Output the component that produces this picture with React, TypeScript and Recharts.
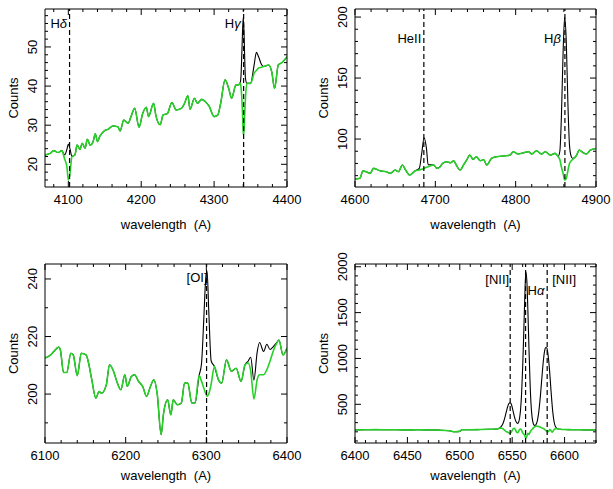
import React from 'react';
import { LineChart, Line, XAxis, YAxis, ReferenceLine } from 'recharts';

const FONT = '"Liberation Sans", Arial, Helvetica, sans-serif';
const GREEN = '#27d127';

// top left: H-delta / H-gamma
const wave1 = [4068, 4075, 4080, 4086, 4091, 4095, 4098, 4100, 4102, 4105, 4109, 4112, 4116, 4119, 4123, 4126, 4130, 4134, 4137, 4140, 4143, 4149, 4155, 4161, 4168, 4171, 4176, 4182, 4186, 4191, 4197, 4202, 4207, 4210, 4217, 4220, 4226, 4230, 4236, 4242, 4248, 4255, 4259, 4264, 4267, 4273, 4277, 4283, 4288, 4293, 4300, 4305, 4309, 4315, 4320, 4324, 4330, 4333, 4336, 4337, 4338, 4339, 4340, 4341, 4342, 4343, 4345, 4350, 4355, 4358, 4361, 4365, 4368, 4375, 4379, 4383, 4388, 4393, 4400];
const observed1 = [22.4, 22.8, 23.5, 23.0, 23.5, 22.4, 23.8, 25.2, 24.2, 22.0, 22.4, 24.9, 23.8, 25.4, 24.1, 26.4, 24.9, 25.8, 27.8, 25.8, 27.1, 28.5, 29.0, 29.8, 29.6, 28.5, 31.3, 30.5, 32.2, 34.3, 29.5, 33.0, 34.6, 32.2, 35.6, 32.6, 30.1, 32.6, 33.0, 35.8, 33.9, 34.3, 35.4, 37.5, 34.1, 36.9, 35.6, 36.6, 36.0, 34.9, 32.2, 32.6, 35.6, 41.6, 39.4, 36.9, 40.3, 40.3, 41.0, 43.0, 48.0, 54.0, 57.6, 54.0, 47.0, 42.0, 40.7, 40.7, 45.5, 48.6, 47.5, 45.5, 45.0, 45.4, 43.7, 39.4, 45.4, 46.0, 47.5];
const stellar1 = [22.4, 22.8, 23.5, 23.0, 23.5, 21.3, 19.4, 16.0, 17.3, 22.0, 22.4, 24.9, 23.8, 25.4, 24.1, 26.4, 24.9, 25.8, 27.8, 25.8, 27.1, 28.5, 29.0, 29.8, 29.6, 28.5, 31.3, 30.5, 32.2, 34.3, 29.5, 33.0, 34.6, 32.2, 35.6, 32.6, 30.1, 32.6, 33.0, 35.8, 33.9, 34.3, 35.4, 37.5, 34.1, 36.9, 35.6, 36.6, 36.0, 34.9, 32.2, 32.6, 35.6, 41.6, 39.4, 36.9, 40.3, 40.3, 40.7, 39.5, 37.0, 33.0, 27.5, 28.5, 33.0, 37.0, 40.7, 40.7, 43.3, 44.0, 44.6, 44.8, 45.0, 45.4, 43.7, 39.4, 45.4, 46.0, 47.5];
const lines1 = [4101.7, 4340.5];
const names1 = ['Hδ', 'Hγ'];

// top right: HeII / H-beta
const wave2 = [4600, 4606, 4610, 4614, 4619, 4623, 4631, 4639, 4644, 4650, 4654, 4659, 4663, 4668, 4675, 4680, 4683, 4686, 4689, 4691, 4698, 4702, 4706, 4709, 4714, 4719, 4723, 4726, 4731, 4735, 4739, 4743, 4747, 4751, 4756, 4760, 4764, 4770, 4776, 4785, 4793, 4797, 4803, 4810, 4816, 4820, 4826, 4832, 4837, 4843, 4849, 4853, 4855, 4857, 4859, 4861, 4863, 4865, 4867, 4869, 4871, 4876, 4879, 4884, 4888, 4893, 4900];
const observed2 = [67.2, 67.8, 74.0, 73.2, 71.9, 76.0, 74.0, 73.2, 71.9, 74.6, 73.2, 78.7, 74.6, 70.5, 74.0, 76.0, 88.0, 101.0, 92.0, 79.0, 78.7, 76.0, 77.3, 80.0, 81.4, 80.6, 82.2, 78.7, 74.6, 78.7, 82.8, 86.9, 83.3, 85.5, 82.2, 83.3, 78.7, 84.2, 85.5, 86.1, 86.9, 89.6, 87.7, 88.8, 89.6, 87.7, 90.4, 87.7, 89.6, 86.9, 88.3, 86.0, 90.0, 120.0, 170.0, 200.0, 180.0, 130.0, 95.0, 86.0, 84.0, 86.9, 91.0, 88.8, 87.7, 91.0, 92.3];
const stellar2 = [67.2, 67.8, 74.0, 73.2, 71.9, 76.0, 74.0, 73.2, 71.9, 74.6, 73.2, 78.7, 74.6, 70.5, 74.0, 74.6, 75.2, 76.0, 76.8, 77.3, 78.7, 76.0, 77.3, 80.0, 81.4, 80.6, 82.2, 78.7, 74.6, 78.7, 82.8, 86.9, 83.3, 85.5, 82.2, 83.3, 78.7, 84.2, 85.5, 86.1, 86.9, 89.6, 87.7, 88.8, 89.6, 87.7, 90.4, 87.7, 89.6, 86.9, 88.3, 85.5, 83.0, 77.0, 72.0, 66.4, 67.8, 74.0, 80.0, 82.0, 83.3, 86.9, 91.0, 88.8, 87.7, 91.0, 92.3];
const lines2 = [4685.7, 4861.3];
const names2 = ['HeII', 'Hβ'];

// bottom left: [OI]
const wave3 = [6100, 6107, 6111, 6117, 6119, 6123, 6127, 6132, 6135, 6140, 6145, 6151, 6154, 6158, 6163, 6167, 6170, 6176, 6180, 6185, 6189, 6194, 6199, 6202, 6207, 6211, 6216, 6221, 6226, 6230, 6235, 6239, 6244, 6247, 6252, 6256, 6259, 6264, 6269, 6273, 6277, 6282, 6286, 6291, 6294, 6297, 6299, 6301, 6303, 6306, 6310, 6315, 6319, 6325, 6331, 6337, 6343, 6348, 6352, 6355, 6359, 6363, 6366, 6371, 6375, 6379, 6383, 6387, 6390, 6395, 6400];
const observed3 = [212.5, 213.6, 214.8, 216.3, 215.4, 207.5, 207.5, 214.2, 213.6, 206.4, 214.2, 213.6, 210.8, 205.0, 198.6, 200.9, 200.3, 203.2, 210.2, 207.9, 204.4, 201.5, 206.7, 202.7, 206.1, 206.7, 204.4, 202.7, 199.2, 202.1, 205.0, 200.3, 185.9, 193.4, 198.0, 192.8, 198.0, 196.3, 196.9, 203.8, 203.8, 196.9, 196.9, 206.4, 210.5, 227.0, 239.0, 242.5, 229.0, 211.5, 209.6, 205.0, 203.8, 211.9, 207.9, 209.0, 204.4, 210.2, 211.5, 212.8, 204.8, 214.5, 217.9, 214.8, 217.3, 215.5, 216.5, 217.8, 218.8, 213.6, 216.0];
const stellar3 = [212.5, 213.6, 214.8, 216.3, 215.4, 207.5, 207.5, 214.2, 213.6, 206.4, 214.2, 213.6, 210.8, 205.0, 198.6, 200.9, 200.3, 203.2, 210.2, 207.9, 204.4, 201.5, 206.7, 202.7, 206.1, 206.7, 204.4, 202.7, 199.2, 202.1, 205.0, 200.3, 185.9, 193.4, 198.0, 192.8, 198.0, 196.3, 196.9, 203.8, 203.8, 196.9, 196.9, 206.4, 204.5, 202.0, 200.3, 199.2, 200.0, 203.5, 209.6, 205.0, 203.8, 211.9, 207.9, 209.0, 204.4, 210.2, 210.8, 208.0, 198.3, 205.0, 206.7, 206.7, 208.5, 211.5, 215.0, 217.5, 218.8, 213.6, 216.0];
const lines3 = [6300.3];
const names3 = ['[OI]'];

// bottom right: [NII] / H-alpha
const wave4 = [6400, 6410, 6420, 6430, 6440, 6450, 6460, 6470, 6480, 6490, 6495, 6500, 6502, 6510, 6520, 6530,
  6535, 6536, 6537, 6538, 6539, 6540, 6541, 6542, 6543, 6544, 6545, 6546, 6547, 6548, 6549, 6550, 6551, 6552, 6553, 6554, 6555, 6556, 6557, 6558, 6559,
  6560, 6561, 6562, 6563, 6564, 6565, 6566, 6567, 6568, 6569, 6570, 6571, 6572, 6573, 6574, 6575, 6576, 6577, 6578, 6579,
  6580, 6581, 6582, 6583, 6584, 6585, 6586, 6587, 6588, 6589, 6590, 6591, 6592, 6593, 6594, 6595, 6596, 6597,
  6600, 6605, 6610, 6615, 6620, 6625, 6630];
const observed4 = [220, 222, 224, 222, 222, 220, 222, 220, 218, 212, 200, 205, 222, 222, 225, 228,
  230, 232, 236, 242, 252, 265, 285, 315, 355, 400, 445, 485, 510, 517, 505, 470, 420, 370, 330, 305, 292, 300, 345, 440, 620,
  900, 1260, 1650, 1945, 1850, 1520, 1120, 760, 500, 360, 295, 272, 270, 285, 320, 385, 480, 600, 740, 880,
  1000, 1085, 1120, 1115, 1060, 960, 820, 660, 510, 390, 310, 265, 245, 235, 230, 228, 228, 226,
  225, 224, 222, 222, 220, 220, 220];
const stellar4 = [220, 222, 224, 222, 222, 220, 222, 220, 218, 212, 200, 205, 222, 222, 225, 228,
  230, 232, 235, 238, 240, 238, 235, 225, 215, 205, 200, 195, 188, 185, 195, 215, 235, 238, 225, 200, 190, 200, 225, 230, 215,
  190, 175, 160, 130, 150, 185, 170, 195, 215, 225, 240, 250, 258, 262, 260, 258, 255, 250, 245, 240,
  235, 225, 215, 205, 200, 210, 225, 215, 195, 205, 225, 232, 235, 232, 230, 228, 228, 226,
  225, 224, 222, 222, 220, 220, 220];
const lines4 = [6548.1, 6562.8, 6583.4];
const names4 = ['[NII]', 'Hα', '[NII]'];

const every = (from: number, to: number, step: number) => {
  const out: number[] = [];
  for (let v = from; v <= to + 1e-9; v += step) out.push(v);
  return out;
};

const toRows = (wave: number[], obs: number[], fit: number[]) =>
  wave.map((w, i) => ({ w, obs: obs[i], fit: fit[i] }));

const LineName = ({ name }: { name: string }) => (
  <>
    {name.split('').map((c, i) =>
      /[\u0370-\u03ff]/.test(c) ? <tspan key={i} fontStyle="italic">{c}</tspan> : <tspan key={i}>{c}</tspan>
    )}
  </>
);

const LineTag = (props: any) => {
  const { viewBox, name, dx, dy, anchor } = props;
  if (!viewBox) return null;
  return (
    <text x={viewBox.x + dx} y={viewBox.y + dy} textAnchor={anchor} fontSize={13} fontFamily={FONT} fill="#000">
      <LineName name={name} />
    </text>
  );
};

const TickMark = (props: any) => {
  const { x, y, payload, side, majors } = props;
  const major = majors.includes(payload.value);
  const len = major ? 6 : 3;
  if (side === 'bottom' || side === 'top') {
    const dir = side === 'bottom' ? -1 : 1;
    return (
      <g>
        <line x1={x} x2={x} y1={y} y2={y + dir * len} stroke="#000" strokeWidth={1} />
        {side === 'bottom' && major && (
          <text x={x} y={y + 17} textAnchor="middle" fontSize={13} fontFamily={FONT} fill="#000">
            {payload.value}
          </text>
        )}
      </g>
    );
  }
  const dir = side === 'left' ? 1 : -1;
  return (
    <g>
      <line x1={x} x2={x + dir * len} y1={y} y2={y} stroke="#000" strokeWidth={1} />
      {side === 'left' && major && (
        <text x={x - 8} y={y} transform={`rotate(-90 ${x - 8} ${y})`} textAnchor="middle" fontSize={13} fontFamily={FONT} fill="#000">
          {payload.value}
        </text>
      )}
    </g>
  );
};

interface Tag { dx: number; dy: number; anchor: 'start' | 'end' | 'middle' }

interface PanelProps {
  left: number;
  top: number;
  width: number;
  height: number;
  box: { x0: number; x1: number; y0: number; y1: number };
  titleGap: number;
  rows: { w: number; obs: number; fit: number }[];
  xDomain: [number, number];
  yDomain: [number, number];
  xMajor: number[];
  xMinor: number[];
  yMajor: number[];
  yMinor: number[];
  lines: number[];
  names: string[];
  tags: Tag[];
}

// every axis takes 1px of room, so the margins are the box minus that
function Panel(p: PanelProps) {
  const { x0, x1, y0, y1 } = p.box;
  const margin = { top: y0 - 1, left: x0 - 1, right: p.width - x1 - 1, bottom: p.height - y1 - 1 };
  const axisCommon = { axisLine: { stroke: '#000', strokeWidth: 1 }, tickLine: false, tickSize: 0, tickMargin: 0, interval: 0 as const, allowDataOverflow: true };
  const midY = (y0 + y1) / 2;
  return (
    <div style={{ position: 'absolute', left: p.left, top: p.top, width: p.width, height: p.height }}>
      <LineChart width={p.width} height={p.height} data={p.rows} margin={margin}>
        <XAxis xAxisId="b" dataKey="w" type="number" domain={p.xDomain} ticks={p.xMinor} height={1} {...axisCommon}
          tick={(t: any) => <TickMark {...t} side="bottom" majors={p.xMajor} />} />
        <XAxis xAxisId="t" orientation="top" dataKey="w" type="number" domain={p.xDomain} ticks={p.xMinor} height={1} {...axisCommon}
          tick={(t: any) => <TickMark {...t} side="top" majors={p.xMajor} />} />
        <YAxis yAxisId="l" type="number" domain={p.yDomain} ticks={p.yMinor} width={1} {...axisCommon}
          tick={(t: any) => <TickMark {...t} side="left" majors={p.yMajor} />} />
        <YAxis yAxisId="r" orientation="right" type="number" domain={p.yDomain} ticks={p.yMinor} width={1} {...axisCommon}
          tick={(t: any) => <TickMark {...t} side="right" majors={p.yMajor} />} />
        <Line xAxisId="b" yAxisId="l" type="monotone" dataKey="obs" stroke="#000" strokeWidth={1.1} dot={false} isAnimationActive={false} />
        <Line xAxisId="b" yAxisId="l" type="monotone" dataKey="fit" stroke={GREEN} strokeWidth={1.6} dot={false} isAnimationActive={false} />
        {p.lines.map((x, i) => (
          <ReferenceLine key={i} xAxisId="b" yAxisId="l" x={x} stroke="#000" strokeWidth={1.2} strokeDasharray="5 3"
            label={<LineTag name={p.names[i]} {...p.tags[i]} />} />
        ))}
      </LineChart>
      <svg width={p.width} height={p.height} style={{ position: 'absolute', left: 0, top: 0, pointerEvents: 'none' }}>
        <text x={x0 - 27} y={midY} transform={`rotate(-90 ${x0 - 27} ${midY})`}
          textAnchor="middle" fontSize={13} fontFamily={FONT} fill="#000">Counts</text>
        <text x={(x0 + x1) / 2} y={y1 + p.titleGap} textAnchor="middle" fontSize={13} fontFamily={FONT} fill="#000">
          {'wavelength\u00a0\u00a0(A)'}
        </text>
      </svg>
    </div>
  );
}

export default function App() {
  return (
    <div style={{ position: 'absolute', left: 0, top: 0, width: 613, height: 489, background: '#fff', overflow: 'hidden' }}>
      <Panel left={0} top={0} width={310} height={240} box={{ x0: 45, x1: 287, y0: 9, y1: 187 }} titleGap={42}
        rows={toRows(wave1, observed1, stellar1)} xDomain={[4068, 4400]} yDomain={[14.2, 59.7]}
        xMajor={[4100, 4200, 4300, 4400]} xMinor={every(4080, 4400, 20)}
        yMajor={[20, 30, 40, 50]} yMinor={every(16, 58, 2)}
        lines={lines1} names={names1}
        tags={[{ dx: -2.5, dy: 19, anchor: 'end' }, { dx: -3, dy: 19, anchor: 'end' }]} />
      <Panel left={300} top={0} width={313} height={240} box={{ x0: 55, x1: 296, y0: 9, y1: 187 }} titleGap={42}
        rows={toRows(wave2, observed2, stellar2)} xDomain={[4600, 4900]} yDomain={[60.7, 206.6]}
        xMajor={[4600, 4700, 4800, 4900]} xMinor={every(4600, 4900, 20)}
        yMajor={[100, 150, 200]} yMinor={every(70, 200, 10)}
        lines={lines2} names={names2}
        tags={[{ dx: -2.5, dy: 33.5, anchor: 'end' }, { dx: -4, dy: 34, anchor: 'end' }]} />
      <Panel left={0} top={240} width={310} height={249} box={{ x0: 45, x1: 287, y0: 24, y1: 203 }} titleGap={37}
        rows={toRows(wave3, observed3, stellar3)} xDomain={[6100, 6400]} yDomain={[183, 245.2]}
        xMajor={[6100, 6200, 6300, 6400]} xMinor={every(6100, 6400, 20)}
        yMajor={[200, 220, 240]} yMinor={every(190, 240, 10)}
        lines={lines3} names={names3}
        tags={[{ dx: 1, dy: 17.5, anchor: 'end' }]} />
      <Panel left={300} top={240} width={313} height={249} box={{ x0: 55, x1: 296, y0: 24, y1: 203 }} titleGap={37}
        rows={toRows(wave4, observed4, stellar4)} xDomain={[6400, 6630]} yDomain={[78, 2030]}
        xMajor={[6400, 6450, 6500, 6550, 6600]} xMinor={every(6400, 6630, 10)}
        yMajor={[500, 1000, 1500, 2000]} yMinor={every(100, 2000, 100)}
        lines={lines4} names={names4}
        tags={[{ dx: -1, dy: 20, anchor: 'end' }, { dx: 2, dy: 31, anchor: 'start' }, { dx: 5, dy: 20, anchor: 'start' }]} />
    </div>
  );
}
